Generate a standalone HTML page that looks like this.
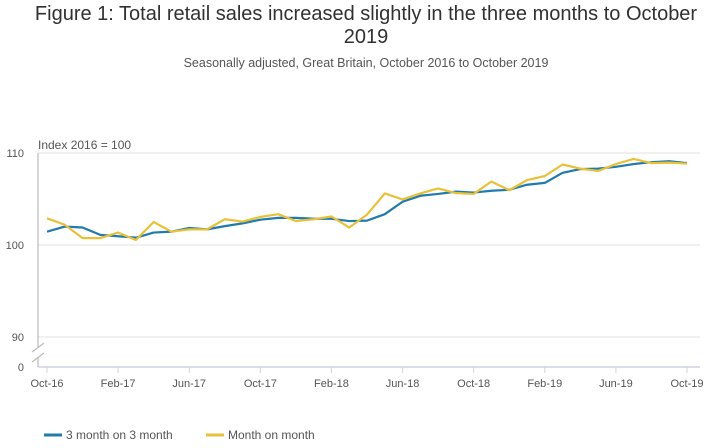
<!DOCTYPE html>
<html><head><meta charset="utf-8"><style>
body{margin:0;background:#fff;font-family:"Liberation Sans",sans-serif;}
svg text{font-family:"Liberation Sans",sans-serif;}
</style></head><body>
<svg width="708" height="443">
<text x="366" y="20" font-size="20" fill="#323132" text-anchor="middle">Figure 1: Total retail sales increased slightly in the three months to October</text>
<text x="366" y="43" font-size="20" fill="#323132" text-anchor="middle">2019</text>
<text x="366" y="67" font-size="12.5" fill="#555" text-anchor="middle">Seasonally adjusted, Great Britain, October 2016 to October 2019</text>
<text x="38" y="149" font-size="12" fill="#555">Index 2016 = 100</text>
<g id="grid"></g>
<g id="series"></g>
<g id="legend">
<line x1="44" y1="435" x2="62" y2="435" stroke="#1f7bab" stroke-width="3"/>
<text x="66" y="439" font-size="12" fill="#555">3 month on 3 month</text>
<line x1="206" y1="435" x2="224" y2="435" stroke="#e8c03a" stroke-width="3"/>
<text x="228" y="439" font-size="12" fill="#555">Month on month</text>
</g>
</svg>
<script>
const months = ["Oct-16","Nov-16","Dec-16","Jan-17","Feb-17","Mar-17","Apr-17","May-17","Jun-17","Jul-17","Aug-17","Sep-17","Oct-17","Nov-17","Dec-17","Jan-18","Feb-18","Mar-18","Apr-18","May-18","Jun-18","Jul-18","Aug-18","Sep-18","Oct-18","Nov-18","Dec-18","Jan-19","Feb-19","Mar-19","Apr-19","May-19","Jun-19","Jul-19","Aug-19","Sep-19","Oct-19"];
const threeMonth = [101.45,102.0,101.9,101.1,100.95,100.8,101.35,101.45,101.85,101.7,102.05,102.35,102.75,102.95,102.95,102.85,102.85,102.6,102.65,103.35,104.7,105.35,105.55,105.8,105.7,105.9,106.0,106.55,106.75,107.85,108.25,108.3,108.5,108.8,109.0,109.1,108.9];
const monthOnMonth = [102.9,102.2,100.75,100.75,101.35,100.55,102.5,101.45,101.7,101.7,102.8,102.55,103.05,103.35,102.6,102.8,103.1,101.9,103.3,105.6,104.95,105.6,106.15,105.65,105.55,106.9,105.95,107.05,107.5,108.75,108.3,108.05,108.8,109.35,108.9,108.95,108.85];
const yTicks = [90,100,110];
const xTickLabels = ["Oct-16","Feb-17","Jun-17","Oct-17","Feb-18","Jun-18","Oct-18","Feb-19","Jun-19","Oct-19"];

const NS="http://www.w3.org/2000/svg";
const x0=47, dx=(687-47)/36;
const X=i=>x0+i*dx;
const Y=v=>245-(v-100)*9.2;
function mk(t,a,p){const e=document.createElementNS(NS,t);for(const k in a)e.setAttribute(k,a[k]);p.appendChild(e);return e;}
const grid=document.getElementById('grid');
yTicks.forEach(v=>{
  const l=mk('line',{x1:38,x2:700,y1:Y(v),y2:Y(v),stroke:'#e2e2e3','stroke-width':1},grid);
  
  
  const t=mk('text',{x:24,y:Y(v)+4,'font-size':11,fill:'#555','text-anchor':'end'},grid);t.textContent=v;
  
  
});
let z=mk('line',{x1:38,x2:700,y1:367,y2:367,stroke:'#d0d2e3','stroke-width':1.5},grid);


let zt=mk('text',{x:24,y:371,'font-size':11,fill:'#555','text-anchor':'end'},grid);zt.textContent='0';


let ya=mk('path',{d:'M38 153 V347 M38 357 V367 M32 352 L44 343 M32 362 L44 353',stroke:'#bbb','stroke-width':1.2,fill:'none'},grid);


xTickLabels.forEach(lab=>{
  const i=months.indexOf(lab);
  const tk=mk('line',{x1:X(i),x2:X(i),y1:367,y2:373,stroke:'#d0d2e3'},grid);
  
  
  const t=mk('text',{x:X(i),y:387,'font-size':11,fill:'#555','text-anchor':'middle'},grid);t.textContent=lab;
  
  
});
const s=document.getElementById('series');
function line(vals,col,name){
  const p=mk('polyline',{points:vals.map((v,i)=>X(i)+','+Y(v)).join(' '),fill:'none',stroke:col,'stroke-width':2.2,'stroke-linejoin':'round'},s);
  
  
}
line(threeMonth,'#1f7bab','line-3-month-on-3-month');
line(monthOnMonth,'#e8c03a','line-month-on-month');
</script>
</body></html>
